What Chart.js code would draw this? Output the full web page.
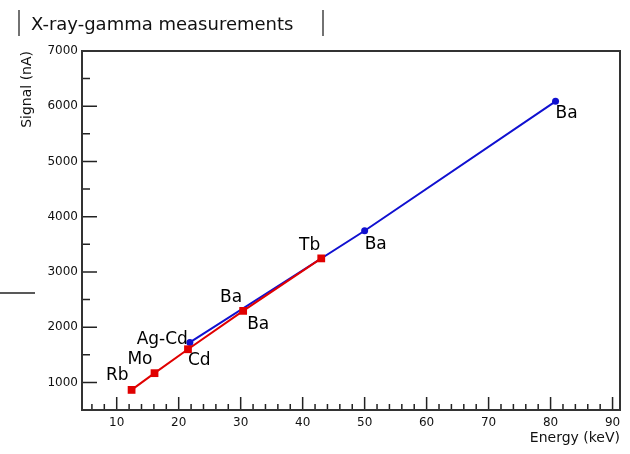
<!DOCTYPE html>
<html>
<head>
<meta charset="utf-8">
<script src="https://cdn.jsdelivr.net/npm/chart.js@4.4.1/dist/chart.umd.min.js"></script>
<style>
  html, body { margin: 0; padding: 0; background: #fff; }
  #wrap { width: 630px; height: 454px; position: relative; }
</style>
</head>
<body>
<div id="wrap"><canvas id="chart"></canvas></div>
<script>
// X-ray lines (red) and gamma lines (blue)
const energyRed = [12.4, 16.1, 21.5, 30.4, 43.0];
const signalRed = [864, 1167, 1600, 2295, 3245];
const namesRed = ['Rb', 'Mo', 'Cd', 'Ba', 'Tb'];

const energyBlue = [21.8, 50.0, 80.8];
const signalBlue = [1723, 3745, 6089];
const namesBlue = ['Ag-Cd', 'Ba', 'Ba'];

const xTicks = [10, 20, 30, 40, 50, 60, 70, 80, 90];
const yTicks = [1000, 2000, 3000, 4000, 5000, 6000, 7000];

const RED = '#e00000';
const BLUE = '#1010d0';
const FONT = '"DejaVu Sans", Verdana, sans-serif';

// where each name goes next to its point
const labelPlaces = [
    {ds: 0, i: 0, dx: -3, dy: -6, align: 'right', base: 'bottom'},
    {ds: 0, i: 1, dx: -2, dy: -5, align: 'right', base: 'bottom'},
    {ds: 0, i: 2, dx: 0, dy: 3, align: 'left', base: 'top'},
    {ds: 0, i: 3, dx: -1, dy: -5, align: 'right', base: 'bottom'},
    {ds: 0, i: 3, dx: 4, dy: 5, align: 'left', base: 'top'},
    {ds: 0, i: 4, dx: -1, dy: -4, align: 'right', base: 'bottom'},
    {ds: 1, i: 0, dx: -2, dy: -3, align: 'right', base: 'middle'},
    {ds: 1, i: 1, dx: 0, dy: 5, align: 'left', base: 'top'},
    {ds: 1, i: 2, dx: 0, dy: 4, align: 'left', base: 'top'}
];

function points(xs, ys) {
    return xs.map((x, i) => ({x: x, y: ys[i]}));
}

// frame, inner ticks, point names, title box
const rootStyle = {
    id: 'rootStyle',
    afterDraw(chart) {
        const ctx = chart.ctx;
        const a = chart.chartArea;
        const xs = chart.scales.x;
        const ys = chart.scales.y;
        ctx.save();

        // inner ticks
        ctx.strokeStyle = '#222';
        ctx.lineWidth = 1.5;
        ctx.beginPath();
        for (let v = 6; v <= 90; v += 2) {
            const px = xs.getPixelForValue(v);
            const len = (v % 10 === 0) ? 13 : 6;
            ctx.moveTo(px, a.bottom);
            ctx.lineTo(px, a.bottom - len);
        }
        for (let v = 500; v <= 7000; v += 500) {
            const py = ys.getPixelForValue(v);
            const len = (v % 1000 === 0) ? 15 : 8;
            ctx.moveTo(a.left, py);
            ctx.lineTo(a.left + len, py);
        }
        ctx.stroke();

        // frame
        ctx.strokeStyle = '#333';
        ctx.lineWidth = 2;
        ctx.strokeRect(a.left, a.top, a.right - a.left, a.bottom - a.top);

        // names of the lines
        ctx.fillStyle = '#000';
        ctx.font = '17px ' + FONT;
        labelPlaces.forEach(l => {
            const pt = chart.getDatasetMeta(l.ds).data[l.i];
            const names = l.ds === 0 ? namesRed : namesBlue;
            ctx.textAlign = l.align;
            ctx.textBaseline = l.base;
            ctx.fillText(names[l.i], pt.x + l.dx, pt.y + l.dy);
        });

        // title pave
        ctx.strokeStyle = '#444';
        ctx.lineWidth = 1.5;
        ctx.beginPath();
        ctx.moveTo(19, 10); ctx.lineTo(19, 36);
        ctx.moveTo(323, 10); ctx.lineTo(323, 36);
        ctx.stroke();
        ctx.fillStyle = '#111';
        ctx.font = '18px ' + FONT;
        ctx.textAlign = 'left';
        ctx.textBaseline = 'alphabetic';
        ctx.fillText('X-ray-gamma measurements', 31, 30);

        // stray mark on the left
        ctx.strokeStyle = '#222';
        ctx.lineWidth = 1.5;
        ctx.beginPath();
        ctx.moveTo(0, 293); ctx.lineTo(35, 293);
        ctx.stroke();

        ctx.restore();
    }
};

const tickFont = {family: FONT, size: 12};

new Chart(document.getElementById('chart'), {
    type: 'scatter',
    data: {
        datasets: [{
            label: 'X-ray',
            data: points(energyRed, signalRed),
            showLine: true,
            borderColor: RED,
            backgroundColor: RED,
            borderWidth: 2,
            pointStyle: 'rect',
            pointRadius: 5.5,
            pointBorderWidth: 0,
            order: 0
        }, {
            label: 'gamma',
            data: points(energyBlue, signalBlue),
            showLine: true,
            borderColor: BLUE,
            backgroundColor: BLUE,
            borderWidth: 2,
            pointStyle: 'circle',
            pointRadius: 3.5,
            pointBorderWidth: 0,
            order: 1
        }]
    },
    options: {
        responsive: true,
        maintainAspectRatio: false,
        animation: false,
        layout: {padding: {left: 0, right: 10, top: 51, bottom: 0}},
        plugins: {
            legend: {display: false},
            tooltip: {enabled: false}
        },
        scales: {
            x: {
                type: 'linear',
                min: 4.4,
                max: 91.2,
                afterBuildTicks: s => { s.ticks = xTicks.map(v => ({value: v})); },
                afterFit: s => { s.height = 44; },
                grid: {display: false, drawTicks: false},
                border: {display: false},
                ticks: {color: '#111', font: tickFont, padding: 6, maxRotation: 0, autoSkip: false,
                        callback: v => String(v)},
                title: {
                    display: true,
                    text: 'Energy (keV)',
                    align: 'end',
                    color: '#111',
                    font: {family: FONT, size: 14},
                    padding: {top: 0, bottom: 7}
                }
            },
            y: {
                type: 'linear',
                min: 500,
                max: 7000,
                afterBuildTicks: s => { s.ticks = yTicks.map(v => ({value: v})); },
                afterFit: s => { s.width = 82; },
                grid: {display: false, drawTicks: false},
                border: {display: false},
                ticks: {color: '#111', font: tickFont, padding: 4, autoSkip: false,
                        callback: v => String(v)},
                title: {
                    display: true,
                    text: 'Signal (nA)',
                    align: 'end',
                    color: '#111',
                    font: {family: FONT, size: 14},
                    padding: {top: 19, bottom: 0}
                }
            }
        }
    },
    plugins: [rootStyle]
});
</script>
</body>
</html>
